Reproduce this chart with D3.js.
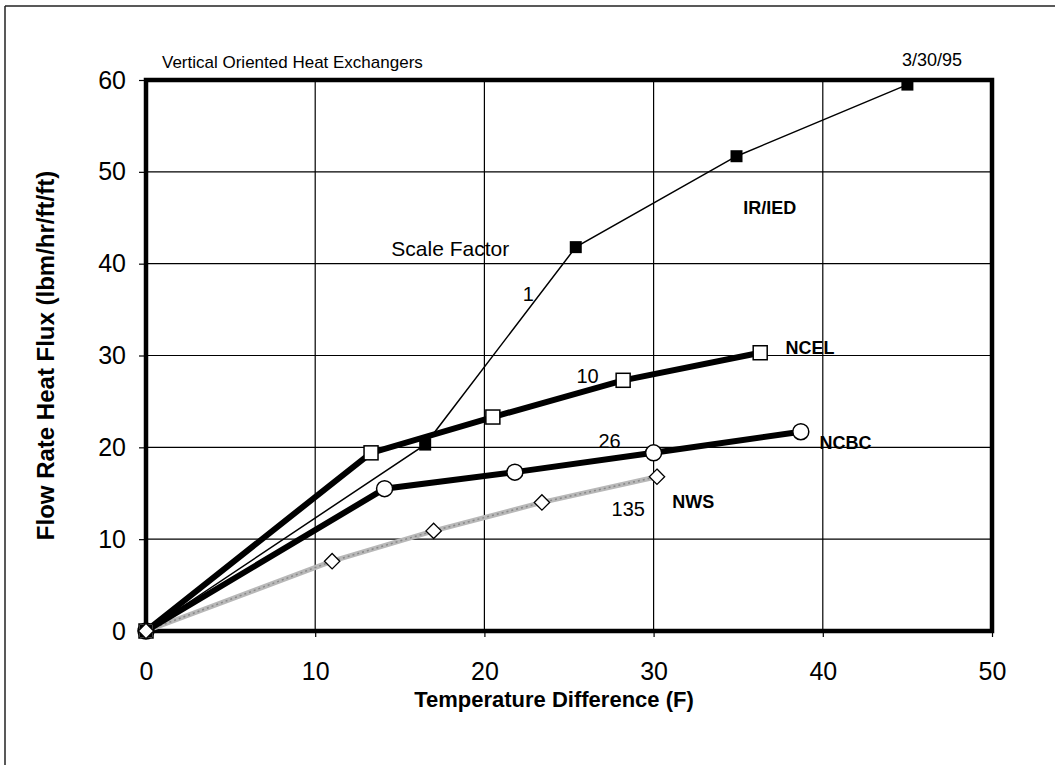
<!DOCTYPE html>
<html><head><meta charset="utf-8">
<script src="https://cdn.jsdelivr.net/npm/d3@7"></script>
<style>
html,body{margin:0;padding:0;background:#fff;}
svg{display:block;font-family:"Liberation Sans",Arial,Helvetica,sans-serif;}
</style></head>
<body>
<svg id="chart" width="1055" height="765"></svg>
<script>
// ---- data ----
const xTicks = [0, 10, 20, 30, 40, 50];
const yTicks = [0, 10, 20, 30, 40, 50, 60];

const irX   = [0, 16.5, 25.4, 34.9, 45.0];
const irY   = [0, 20.3, 41.8, 51.7, 59.5];
const ncelX = [0, 13.3, 20.5, 28.2, 36.3];
const ncelY = [0, 19.4, 23.3, 27.3, 30.3];
const ncbcX = [0, 14.1, 21.8, 30.0, 38.7];
const ncbcY = [0, 15.5, 17.3, 19.4, 21.7];
const nwsX  = [0, 11.0, 17.0, 23.4, 30.2];
const nwsY  = [0, 7.6, 10.9, 14.0, 16.8];

const title = "Vertical Oriented Heat Exchangers";
const dateText = "3/30/95";
const xTitle = "Temperature Difference (F)";
const yTitle = "Flow Rate Heat Flux (lbm/hr/ft/ft)";

const noteTexts = ["Scale Factor", "1", "10", "26", "135", "NWS", "NCEL", "NCBC", "IR/IED"];
const noteX = [14.5, 22.6, 26.1, 27.4, 28.5, 31.1, 37.8, 39.8, 35.3];
const noteY = [40.8, 35.9, 27.0, 19.9, 12.5, 13.4, 30.2, 19.8, 45.4];

// ---- layout ----
const svg = d3.select("#chart");
const L = 146, R = 992, T = 80, B = 631;
const x = d3.scaleLinear().domain([0, 50]).range([L, R]);
const y = d3.scaleLinear().domain([0, 60]).range([B, T]);

// outer frame lines
svg.append("line").attr("x1", 5).attr("x2", 1055).attr("y1", 6).attr("y2", 6)
  .attr("stroke", "#222").attr("stroke-width", 1.5);
svg.append("line").attr("x1", 5).attr("x2", 5).attr("y1", 6).attr("y2", 765)
  .attr("stroke", "#222").attr("stroke-width", 1.5);

// gridlines
svg.append("g").selectAll("line").data(xTicks.slice(1, -1)).join("line")
  .attr("x1", d => x(d)).attr("x2", d => x(d)).attr("y1", T).attr("y2", B)
  .attr("stroke", "#000").attr("stroke-width", 1.2);
svg.append("g").selectAll("line").data(yTicks.slice(1, -1)).join("line")
  .attr("x1", L).attr("x2", R).attr("y1", d => y(d)).attr("y2", d => y(d))
  .attr("stroke", "#000").attr("stroke-width", 1.2);

// axes
const xAxis = svg.append("g").attr("transform", `translate(0,${B})`)
  .call(d3.axisBottom(x).tickValues(xTicks).tickSize(6).tickPadding(25).tickFormat(d3.format("d")));
const yAxis = svg.append("g").attr("transform", `translate(${L},0)`)
  .call(d3.axisLeft(y).tickValues(yTicks).tickSize(7).tickPadding(13).tickFormat(d3.format("d")));
[xAxis, yAxis].forEach(a => {
  a.select(".domain").remove();
  a.selectAll("line").attr("stroke", "#000").attr("stroke-width", 1.2);
  a.selectAll("text").attr("font-size", 25).attr("fill", "#000")
    .attr("font-family", '"Liberation Sans",Arial,sans-serif');
});

// plot frame
svg.append("rect").attr("x", L).attr("y", T).attr("width", R - L).attr("height", B - T)
  .attr("fill", "none").attr("stroke", "#000").attr("stroke-width", 4.5);

const line = d3.line().x(d => x(d[0])).y(d => y(d[1]));
const zip = (a, b) => a.map((v, i) => [v, b[i]]);
const nws = zip(nwsX, nwsY), ncbc = zip(ncbcX, ncbcY), ncel = zip(ncelX, ncelY), ir = zip(irX, irY);

// lines
svg.append("path").attr("d", line(nws)).attr("fill", "none")
  .attr("stroke", "#b8b8b8").attr("stroke-width", 5);
svg.append("path").attr("d", line(nws)).attr("fill", "none")
  .attr("stroke", "#888").attr("stroke-width", 1.5).attr("stroke-dasharray", "2 3");
svg.append("path").attr("d", line(ncbc)).attr("fill", "none")
  .attr("stroke", "#000").attr("stroke-width", 6);
svg.append("path").attr("d", line(ncel)).attr("fill", "none")
  .attr("stroke", "#000").attr("stroke-width", 6);
svg.append("path").attr("d", line(ir)).attr("fill", "none")
  .attr("stroke", "#000").attr("stroke-width", 1.5);

// markers
svg.append("g").selectAll("circle").data(ncbc).join("circle")
  .attr("cx", d => x(d[0])).attr("cy", d => y(d[1])).attr("r", 8)
  .attr("fill", "#fff").attr("stroke", "#000").attr("stroke-width", 1.5);
svg.append("g").selectAll("rect").data(ncel).join("rect")
  .attr("x", d => x(d[0]) - 7).attr("y", d => y(d[1]) - 7).attr("width", 14).attr("height", 14)
  .attr("fill", "#fff").attr("stroke", "#000").attr("stroke-width", 1.5);
svg.append("g").selectAll("rect").data(ir).join("rect")
  .attr("x", d => x(d[0]) - 6).attr("y", d => y(d[1]) - 6).attr("width", 12).attr("height", 12)
  .attr("fill", "#000");
const diamond = d3.symbol().type(d3.symbolDiamond2).size(150);
svg.append("g").selectAll("path").data(nws).join("path")
  .attr("transform", d => `translate(${x(d[0])},${y(d[1])})`)
  .attr("d", diamond).attr("fill", "#fff").attr("stroke", "#000").attr("stroke-width", 1.3);

// annotations
const bold = new Set(["NWS", "NCEL", "NCBC", "IR/IED"]);
const mid = new Set(["1", "10", "26", "135"]);
svg.append("g").selectAll("text").data(noteTexts).join("text")
  .attr("x", (d, i) => x(noteX[i])).attr("y", (d, i) => y(noteY[i]))
  .attr("text-anchor", d => mid.has(d) ? "middle" : "start")
  .attr("font-size", d => bold.has(d) ? 18 : (d === "Scale Factor" ? 21 : 20))
  .attr("font-weight", d => bold.has(d) ? "bold" : "normal")
  .text(d => d);

// titles
svg.append("text").attr("x", 162).attr("y", 68).attr("font-size", 17).text(title);
svg.append("text").attr("x", 962).attr("y", 66).attr("text-anchor", "end").attr("font-size", 18).text(dateText);
svg.append("text").attr("x", (L + R) / 2 - 15).attr("y", 707).attr("text-anchor", "middle")
  .attr("font-size", 22).attr("font-weight", "bold").text(xTitle);
svg.append("text").attr("transform", `translate(54,${(T + B) / 2}) rotate(-90)`)
  .attr("text-anchor", "middle").attr("font-size", 24).attr("font-weight", "bold").text(yTitle);
</script>
</body></html>
